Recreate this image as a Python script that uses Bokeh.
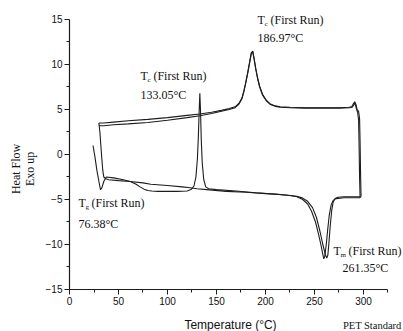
import math
from bokeh.plotting import figure
from bokeh.models import Label, Range1d, FixedTicker, LinearAxis
from bokeh.embed import file_html
from bokeh.resources import INLINE

# ---------------- data ----------------
run1_heat_T = [24, 26, 28, 30, 31.6, 33, 35, 37.5, 45, 55, 62, 68, 72, 76, 80, 84, 90, 100, 110, 120,
               124, 127, 129, 130.5, 131.5, 132.3, 133, 133.7, 134.5, 135.5, 137, 139, 142, 150, 170,
               190, 210, 225, 232, 238, 243, 247, 251, 254, 256.5, 258.5, 259.5, 260.5, 262, 263.5,
               265, 267, 269, 272, 280, 290, 296, 297.5]
run1_heat_hf = [1.0, -0.3, -1.8, -3.0, -3.9, -3.7, -3.0, -2.5, -2.6, -2.8, -3.0, -3.3, -3.6, -3.85, -4.0,
                -4.05, -4.1, -4.1, -4.1, -4.05, -3.9, -3.5, -2.5, -0.5, 2.0, 4.8, 6.8, 4.8, 1.5, -1.0,
                -2.8, -3.6, -3.8, -3.9, -4.05, -4.25, -4.4, -4.55, -4.7, -5.0, -5.5, -6.3, -7.5, -8.8,
                -10.0, -11.1, -11.6, -11.3, -10.0, -8.3, -6.8, -5.6, -5.1, -4.9, -4.8, -4.8, -4.8, -4.7]

run1_cool_T = [297.5, 297, 296.5, 296, 295, 293.5, 292.5, 291, 289.5, 288, 285, 275, 260, 240, 225, 215,
               210, 205, 201, 197, 194, 192, 190, 188.5, 187, 185.5, 184, 182, 180, 178, 176, 173, 169,
               163, 155, 145, 133, 120, 100, 80, 60, 45, 35, 30]
run1_cool_hf = [-4.7, -2.0, 1.5, 4.0, 4.8, 5.0, 5.5, 5.85, 5.6, 5.3, 5.25, 5.2, 5.2, 5.2, 5.25, 5.3,
                5.4, 5.6, 6.0, 6.7, 7.6, 8.5, 9.6, 10.6, 11.5, 11.3, 10.4, 9.2, 8.1, 7.1, 6.3, 5.7, 5.3,
                5.1, 4.9, 4.7, 4.5, 4.35, 4.1, 3.9, 3.75, 3.6, 3.5, 3.5]

run2_heat_T = [30, 31, 32, 33, 34, 35, 37, 40, 50, 62, 75, 83, 100, 115, 123, 130, 140, 160, 180, 200,
               215, 225, 232, 238, 243, 248, 252, 255.5, 258.5, 261, 262.5, 263.6, 264.6, 266, 267.5,
               269, 271, 274, 280, 290, 296, 296.5]
run2_heat_hf = [3.5, 2.5, 1.0, -0.5, -1.8, -2.5, -2.7, -2.8, -2.9, -3.0, -3.15, -3.3, -3.45, -3.6, -3.7,
                -3.8, -3.9, -4.1, -4.2, -4.35, -4.45, -4.55, -4.65, -4.85, -5.2, -5.9, -7.0, -8.5,
                -10.0, -11.1, -11.5, -11.2, -10.0, -8.0, -6.3, -5.3, -4.9, -4.75, -4.7, -4.7, -4.7, -4.7]

run2_cool_T = [296.5, 296, 295.5, 295, 294, 293, 292, 291, 290, 288.5, 286, 275, 260, 240, 225, 215,
               210, 205, 201, 197, 194, 192, 190, 188.5, 187, 185.5, 184, 182, 180, 178, 176, 173, 169,
               163, 155, 145, 133, 120, 100, 80, 60, 45, 35, 30]
run2_cool_hf = [-4.7, -2.5, 1.0, 3.8, 4.7, 5.0, 5.4, 5.75, 5.5, 5.25, 5.2, 5.15, 5.15, 5.15, 5.2, 5.25,
                5.35, 5.55, 5.95, 6.6, 7.5, 8.4, 9.5, 10.5, 11.4, 11.2, 10.3, 9.1, 8.0, 7.0, 6.2, 5.6,
                5.2, 5.0, 4.8, 4.55, 4.3, 4.1, 3.8, 3.55, 3.4, 3.3, 3.2, 3.2]

x_ticks = [0, 50, 100, 150, 200, 250, 300]
x_minor = [25, 75, 125, 175, 225, 275, 325]
y_ticks = [-15, -10, -5, 0, 5, 10, 15]
y_minor = [-12.5, -7.5, -2.5, 2.5, 7.5, 12.5]
x_bounds = (0, 325)
y_bounds = (-15, 15)

# ---------------- figure: frame fills the canvas, axes at fixed data locations ----------------
p = figure(width=403, height=331, output_backend="svg", toolbar_location=None,
           x_range=Range1d(-70.41, 340.82), y_range=Range1d(-19.667, 17.111),
           x_axis_location=None, y_axis_location=None,
           min_border=0, min_border_left=0, min_border_right=0, min_border_top=0, min_border_bottom=0)
p.outline_line_color = None
p.background_fill_color = "white"
p.border_fill_color = "white"
p.grid.visible = False

ink = "#1c1c1c"
for xs, ys in [(run1_heat_T, run1_heat_hf), (run1_cool_T, run1_cool_hf),
               (run2_heat_T, run2_heat_hf), (run2_cool_T, run2_cool_hf)]:
    p.line(xs, ys, line_color=ink, line_width=1.1)

xaxis = LinearAxis(fixed_location=y_bounds[0], bounds=x_bounds,
                   ticker=FixedTicker(ticks=x_ticks, minor_ticks=x_minor))
yaxis = LinearAxis(fixed_location=x_bounds[0], bounds=y_bounds,
                   ticker=FixedTicker(ticks=y_ticks, minor_ticks=y_minor))
for ax in (xaxis, yaxis):
    ax.axis_line_color = ink
    ax.axis_line_width = 1.2
    ax.major_tick_line_color = ink
    ax.minor_tick_line_color = ink
    ax.major_tick_in = 0
    ax.major_tick_out = 5
    ax.minor_tick_in = 0
    ax.minor_tick_out = 3
    ax.major_label_text_font = "Liberation Sans"
    ax.major_label_text_font_size = "10px"
    ax.major_label_text_color = "#111111"
xaxis.major_label_standoff = 3
yaxis.major_label_standoff = 2
p.add_layout(xaxis, "below")
p.add_layout(yaxis, "left")

serif = "Liberation Serif"

# axis titles
p.add_layout(Label(x=164.3, y=-19.0, text="Temperature (°C)", text_font="Liberation Sans",
                   text_font_size="12px", text_align="center", text_baseline="middle",
                   text_color="#111111"))
for txt, xd in [("Heat Flow", -55.0), ("Exo up", -40.8)]:
    p.add_layout(Label(x=xd, y=-1.6, text=txt, angle=math.pi / 2, text_font=serif,
                       text_font_size="12px", text_align="center", text_baseline="middle",
                       text_color="#111111"))

# footer
p.add_layout(Label(x=338.8, y=-19.0, text="PET Standard", text_font=serif, text_font_size="10.5px",
                   text_align="right", text_baseline="middle", text_color="#111111"))


def annot(xd, yd, sub, sub_w, value_txt, value_dx, value_dy):
    p.add_layout(Label(x=xd, y=yd, text="T", text_font=serif, text_font_size="12px",
                       text_align="left", text_baseline="middle", text_color="#111111"))
    p.add_layout(Label(x=xd, y=yd, x_offset=7, y_offset=-4, text=sub, text_font=serif,
                       text_font_size="7px", text_align="left", text_baseline="middle",
                       text_color="#111111"))
    p.add_layout(Label(x=xd, y=yd, x_offset=7 + sub_w + 2, text="(First Run)", text_font=serif,
                       text_font_size="12px", text_align="left", text_baseline="middle",
                       text_color="#111111"))
    p.add_layout(Label(x=xd, y=yd, x_offset=value_dx, y_offset=value_dy, text=value_txt,
                       text_font=serif, text_font_size="12px", text_align="left",
                       text_baseline="middle", text_color="#111111"))


annot(9.2, -5.44, "g", 4, "76.38°C", 0, -21)
annot(72.4, 8.67, "c", 4, "133.05°C", 0, -19)
annot(191.8, 14.9, "c", 4, "186.97°C", 0, -18)
annot(269.4, -10.67, "m", 6, "261.35°C", 9, -17)

open("out.html", "w").write(file_html(p, INLINE))
